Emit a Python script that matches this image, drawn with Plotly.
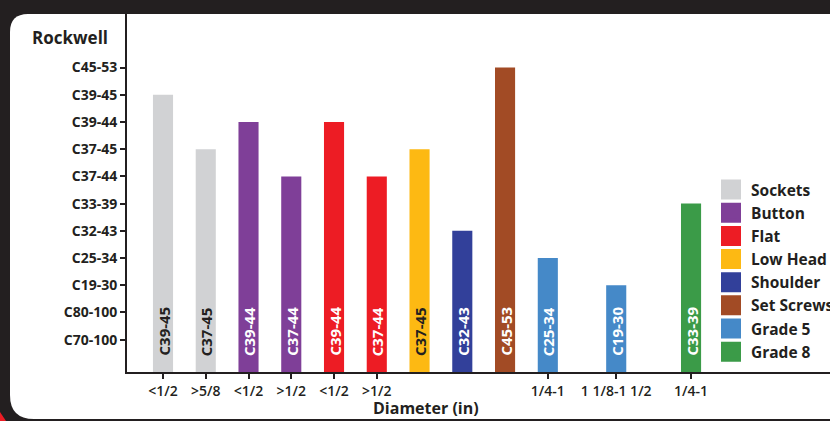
import plotly.graph_objects as go

# ---------------- data ----------------
hardness_levels = ["C70-100", "C80-100", "C19-30", "C25-34", "C32-43", "C33-39",
                   "C37-44", "C37-45", "C39-44", "C39-45", "C45-53"]

groups = ["Sockets", "Button", "Flat", "Low Head", "Shoulder", "Set Screws", "Grade 5", "Grade 8"]
group_colors = ["#d1d2d4", "#7f3f98", "#ed1c24", "#fdb913", "#32409a", "#a24b25", "#4589c8", "#3b9b48"]
text_colors = ["#231f20", "#ffffff", "#ffffff", "#231f20", "#ffffff", "#ffffff", "#ffffff", "#ffffff"]

bar_group = ["Sockets", "Sockets", "Button", "Button", "Flat", "Flat", "Low Head",
             "Shoulder", "Set Screws", "Grade 5", "Grade 5", "Grade 8"]
bar_slot = [0, 1, 2, 3, 4, 5, 6, 7, 8, 9, 10.6, 12.35]
bar_hardness = ["C39-45", "C37-45", "C39-44", "C37-44", "C39-44", "C37-44", "C37-45",
                "C32-43", "C45-53", "C25-34", "C19-30", "C33-39"]
diameter_labels = ["<1/2", ">5/8", "<1/2", ">1/2", "<1/2", ">1/2", "",
                   "", "", "1/4-1", "1 1/8-1 1/2", "1/4-1"]

# ---------------- figure ----------------
W, H = 830, 421
ML, MR, MT, MB = 127, 0, 14, 49
PW, PH = W - ML - MR, H - MT - MB
Y0, Y1 = -0.19, 12.97
FONT = "Open Sans"
DARK = "#231f20"

def px(x):
    return (x - ML) / PW

def py(y):
    return (H - MB - y) / PH

bar_value = [hardness_levels.index(h) + 1 for h in bar_hardness]

fig = go.Figure()
for g, col in zip(groups, group_colors):
    idx = [i for i, b in enumerate(bar_group) if b == g]
    fig.add_trace(go.Bar(
        x=[bar_slot[i] for i in idx],
        y=[bar_value[i] - Y0 for i in idx],
        base=Y0,
        width=0.47,
        marker=dict(color=col, line=dict(width=0)),
        name=g,
        showlegend=False,
        hoverinfo="skip",
    ))
    # legend entry
    fig.add_trace(go.Scatter(
        x=[None], y=[None], mode="markers", name=g,
        marker=dict(symbol="square", size=16, color=col, line=dict(color=col, width=4)),
    ))

annotations = []
for i in range(len(bar_slot)):
    gi = groups.index(bar_group[i])
    annotations.append(dict(
        x=bar_slot[i], y=Y0, xref="x", yref="y",
        text=bar_hardness[i], textangle=-90, showarrow=False,
        yanchor="bottom", xanchor="center", yshift=14,
        font=dict(family=FONT, size=15, color=text_colors[gi], weight="bold"),
    ))

annotations.append(dict(
    x=px(30), y=py(37), xref="paper", yref="paper", text="Rockwell",
    showarrow=False, xanchor="left", yanchor="middle",
    font=dict(family=FONT, size=17, color=DARK, weight="bold"),
))
annotations.append(dict(
    x=px(426), y=py(408), xref="paper", yref="paper", text="Diameter (in)",
    showarrow=False, xanchor="center", yanchor="middle",
    font=dict(family=FONT, size=16, color=DARK, weight="bold"),
))

# white rounded panel
def panel_path():
    l, t, r, b = 10, 14, 845, 419
    rt, rb = 18, 24
    pts = (f"M {px(l)},{py(t + rt)} "
           f"Q {px(l)},{py(t)} {px(l + rt)},{py(t)} "
           f"L {px(r)},{py(t)} L {px(r)},{py(b)} "
           f"L {px(l + rb)},{py(b)} "
           f"Q {px(l)},{py(b)} {px(l)},{py(b - rb)} Z")
    return pts

shapes = [
    dict(type="path", path=panel_path(), xref="paper", yref="paper",
         fillcolor="#ffffff", line=dict(width=0), layer="below"),
    dict(type="path", xref="paper", yref="paper", layer="below",
         path=f"M {px(0)},{py(412)} L {px(6)},{py(421)} L {px(0)},{py(421)} Z",
         fillcolor="#ed1c24", line=dict(width=0)),
]

tick_vals = [bar_slot[i] for i in range(len(bar_slot)) if diameter_labels[i]]
tick_text = [diameter_labels[i] for i in range(len(bar_slot)) if diameter_labels[i]]

fig.update_layout(
    width=W, height=H,
    margin=dict(l=ML, r=MR, t=MT, b=MB, pad=0, autoexpand=False),
    paper_bgcolor=DARK,
    plot_bgcolor="rgba(0,0,0,0)",
    barmode="overlay",
    showlegend=True,
    legend=dict(
        x=711 / W, y=1 - 173 / H, xanchor="left", yanchor="top",
        xref="container", yref="container",
        bgcolor="rgba(0,0,0,0)", borderwidth=0,
        font=dict(family=FONT, size=15.5, color=DARK, weight="bold"),
        itemwidth=30, tracegroupgap=0,
    ),
    xaxis=dict(
        range=[-0.842, 15.6], showgrid=False, zeroline=False,
        showline=True, linecolor=DARK, linewidth=2,
        tickmode="array", tickvals=tick_vals, ticktext=tick_text,
        ticks="outside", ticklen=5, tickwidth=2, tickcolor=DARK,
        tickfont=dict(family=FONT, size=14, color=DARK, weight=600),
        fixedrange=True,
    ),
    yaxis=dict(
        range=[Y0, Y1], showgrid=False, zeroline=False,
        showline=True, linecolor=DARK, linewidth=2,
        tickmode="array", tickvals=list(range(1, len(hardness_levels) + 1)),
        ticktext=hardness_levels,
        ticks="outside", ticklen=5, tickwidth=2, tickcolor=DARK,
        tickfont=dict(family=FONT, size=14, color=DARK, weight="bold"),
        fixedrange=True,
    ),
    annotations=annotations,
    shapes=shapes,
)

fig.write_html(
    "out.html",
    config={"displayModeBar": False},
    post_script="document.body.style.margin='0';document.body.style.overflow='hidden';",
)
